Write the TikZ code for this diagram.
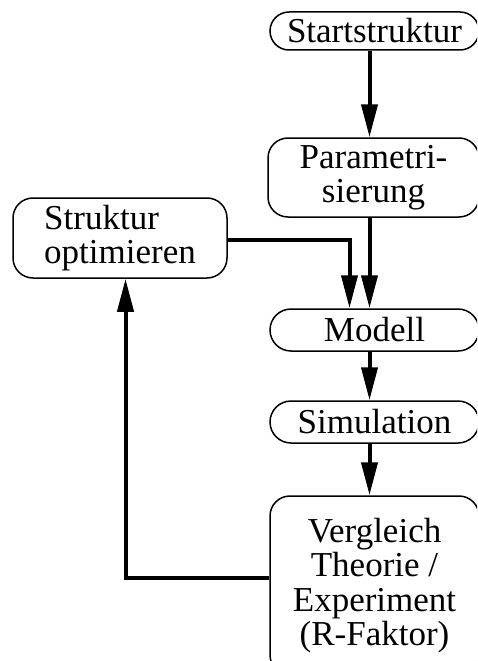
\documentclass[tikz,border=0pt]{standalone}
\usepackage{fontspec}
\setmainfont{Liberation Serif}
\usetikzlibrary{arrows.meta}
\begin{document}
\begin{tikzpicture}[x=1pt,y=-1pt,
  box/.style={draw,line width=1.5pt,rounded corners=20pt,inner sep=0pt,
    font=\fontsize{35}{34.5}\selectfont,align=center},
  arr/.style={line width=4pt,-{Triangle[length=33pt,width=16pt]}}]
\useasboundingbox (0,0) rectangle (477,661);
\clip (0,0) rectangle (477,661);
\coordinate (cx) at (369.5,0);
\coordinate (cl) at (349.5,0);
\coordinate (cb) at (125.5,0);
\coordinate (ch) at (0,240);
\coordinate (cv) at (0,578);
\node[box,minimum width=209,minimum height=38,rounded corners=19pt] (start) at (374.5,31) {Startstruktur};
\node[box,minimum width=211,minimum height=79] (param) at (373.5,177.5) {Parametri-\\sierung};
\node[box,minimum width=214,minimum height=80,align=left] (opt) at (120,238) {Struktur\\optimieren};
\node[box,minimum width=209,minimum height=42,rounded corners=21pt] (modell) at (374.5,330) {Modell};
\node[box,minimum width=209,minimum height=42,rounded corners=21pt] (sim) at (374.5,422) {Simulation};
\node[box,minimum width=209,minimum height=179] (verg) at (374.5,585.5) {Vergleich\\Theorie /\\Experiment\\(R-Faktor)};
\draw[arr] (start.south -| cx) -- (param.north -| cx);
\draw[arr] (param.south -| cx) -- (modell.north -| cx);
\draw[arr] (opt.east |- ch) -| (modell.north -| cl);
\draw[arr] (modell.south -| cx) -- (sim.north -| cx);
\draw[arr] (sim.south -| cx) -- (verg.north -| cx);
\draw[arr] (verg.west |- cv) -| (opt.south -| cb);
\end{tikzpicture}
\end{document}
